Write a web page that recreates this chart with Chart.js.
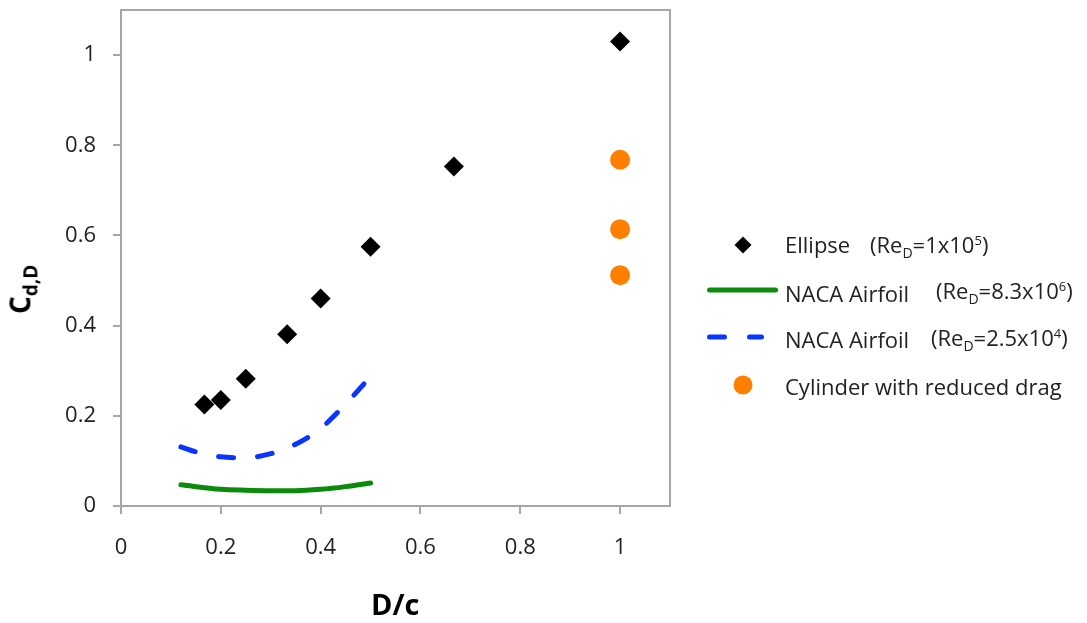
<html>
<head>
  <title>Drag coefficient vs D/c</title>
  <script src="https://cdn.jsdelivr.net/npm/chart.js"></script>
  <style>
    body { margin: 0; background: #fff; }
    #wrap { position: relative; width: 1087px; height: 623px; font-family: "Open Sans", sans-serif; color: #222; }
    #myChart { position: absolute; left: 0; top: 0; }
    .lbl { position: absolute; white-space: nowrap; font-size: 22px; line-height: 1; }
    .lbl sub { font-size: 14px; line-height: 0; }
    .lbl sup { font-size: 13px; line-height: 0; }
    .ttl { position: absolute; font-weight: bold; white-space: nowrap; color: #000; line-height: 1; }
  </style>
</head>
<body>
  <div id="wrap">
    <canvas id="myChart" width="1087" height="623"></canvas>

    <!-- axis titles -->
    <div class="ttl" style="left:371px; top:589px; font-size:29px;">D/c</div>
    <div id="ytitle" class="ttl" style="font-size:28px;">C<sub style="font-size:19px;">d,D</sub></div>

    <!-- legend -->
    <canvas id="legendMarks" width="90" height="180" style="position:absolute; left:700px; top:225px;"></canvas>
    <div class="lbl" style="left:785px; top:233px;">Ellipse</div>
    <div class="lbl" style="left:870px; top:233px;">(Re<sub>D</sub>=1x10<sup>5</sup>)</div>
    <div class="lbl" style="left:785px; top:282px;">NACA Airfoil</div>
    <div class="lbl" style="left:936px; top:279px;">(Re<sub>D</sub>=8.3x10<sup>6</sup>)</div>
    <div class="lbl" style="left:785px; top:328px;">NACA Airfoil</div>
    <div class="lbl" style="left:931px; top:326px;">(Re<sub>D</sub>=2.5x10<sup>4</sup>)</div>
    <div class="lbl" style="left:785px; top:375px;">Cylinder with reduced drag</div>
  </div>

  <script>
    // Ellipse (Re_D = 1e5)
    var ellipseX = [0.167, 0.2, 0.25, 0.333, 0.4, 0.5, 0.667, 1.0];
    var ellipseY = [0.225, 0.235, 0.282, 0.381, 0.46, 0.575, 0.753, 1.03];

    // NACA airfoil, Re_D = 8.3e6 (solid green)
    var nacaHighX = [0.12, 0.2, 0.25, 0.3, 0.35, 0.4, 0.45, 0.5];
    var nacaHighY = [0.047, 0.037, 0.035, 0.034, 0.034, 0.037, 0.043, 0.051];

    // NACA airfoil, Re_D = 2.5e4 (dashed blue)
    var nacaLowX = [0.12, 0.15, 0.2, 0.25, 0.3, 0.35, 0.4, 0.45, 0.5];
    var nacaLowY = [0.131, 0.12, 0.109, 0.107, 0.116, 0.137, 0.172, 0.226, 0.287];

    // Cylinder with reduced drag
    var cylX = [1.0, 1.0, 1.0];
    var cylY = [0.768, 0.614, 0.512];

    var xTicks = [0, 0.2, 0.4, 0.6, 0.8, 1];
    var yTicks = [0, 0.2, 0.4, 0.6, 0.8, 1];

    var GREEN = "#0b8a0b";
    var BLUE = "#0a35ff";
    var ORANGE = "#ff7f00";
    var AXIS = "#a6a6a6";

    function toPoints(xs, ys) {
      return xs.map(function (x, i) { return { x: x, y: ys[i] }; });
    }

    // draws the top and right edges of the plot box
    var boxPlugin = {
      id: "box",
      afterDraw: function (chart) {
        var a = chart.chartArea, ctx = chart.ctx;
        ctx.save();
        ctx.strokeStyle = AXIS;
        ctx.lineWidth = 2;
        ctx.beginPath();
        ctx.moveTo(a.left, a.top);
        ctx.lineTo(a.right, a.top);
        ctx.lineTo(a.right, a.bottom);
        ctx.stroke();
        ctx.restore();
      }
    };

    var ctx = document.getElementById("myChart").getContext("2d");
    var chart = new Chart(ctx, {
      type: "scatter",
      data: {
        datasets: [
          {
            label: "NACA Airfoil (ReD=8.3x10^6)",
            data: toPoints(nacaHighX, nacaHighY),
            showLine: true,
            borderColor: GREEN,
            borderWidth: 5,
            borderCapStyle: "round",
            pointRadius: 0,
            cubicInterpolationMode: "monotone"
          },
          {
            label: "NACA Airfoil (ReD=2.5x10^4)",
            data: toPoints(nacaLowX, nacaLowY),
            showLine: true,
            borderColor: BLUE,
            borderWidth: 5,
            borderDash: [15, 24],
            borderCapStyle: "round",
            pointRadius: 0,
            cubicInterpolationMode: "monotone"
          },
          {
            label: "Ellipse (ReD=1x10^5)",
            data: toPoints(ellipseX, ellipseY),
            pointStyle: "rectRot",
            pointRadius: 10,
            backgroundColor: "#000",
            borderColor: "#000",
            borderWidth: 0
          },
          {
            label: "Cylinder with reduced drag",
            data: toPoints(cylX, cylY),
            pointStyle: "circle",
            pointRadius: 10,
            backgroundColor: ORANGE,
            borderColor: ORANGE,
            borderWidth: 0
          }
        ]
      },
      options: {
        responsive: false,
        animation: false,
        layout: { padding: { top: 10, right: 417, left: 0, bottom: 0 } },
        plugins: {
          legend: { display: false },
          tooltip: { enabled: false }
        },
        scales: {
          x: {
            type: "linear",
            min: 0,
            max: 1.1,
            afterBuildTicks: function (scale) {
              scale.ticks = xTicks.map(function (v) { return { value: v }; });
            },
            afterFit: function (scale) {
              scale.height = 117;
              scale.paddingLeft = 0;
              scale.paddingRight = 0;
            },
            grid: { drawOnChartArea: false, color: AXIS, tickLength: 8, lineWidth: 2 },
            border: { color: AXIS, width: 2 },
            ticks: {
              color: "#222",
              font: { family: "Open Sans", size: 22 },
              padding: 21,
              maxRotation: 0,
              callback: function (v) { return String(Math.round(v * 10) / 10); }
            }
          },
          y: {
            type: "linear",
            min: 0,
            max: 1.1,
            afterBuildTicks: function (scale) {
              scale.ticks = yTicks.map(function (v) { return { value: v }; });
            },
            afterFit: function (scale) {
              scale.width = 121;
              scale.paddingTop = 0;
              scale.paddingBottom = 0;
            },
            grid: { drawOnChartArea: false, color: AXIS, tickLength: 8, lineWidth: 2 },
            border: { color: AXIS, width: 2 },
            ticks: {
              color: "#222",
              font: { family: "Open Sans", size: 22 },
              padding: 17,
              callback: function (v) { return String(Math.round(v * 10) / 10); }
            }
          }
        }
      },
      plugins: [boxPlugin]
    });

    // rotate the y title about its own centre, placed at (22, 289)
    var yt = document.getElementById("ytitle");
    yt.style.left = (22 - yt.offsetWidth / 2) + "px";
    yt.style.top = (289 - yt.offsetHeight / 2) + "px";
    yt.style.transform = "rotate(-90deg)";

    // legend markers
    var lc = document.getElementById("legendMarks").getContext("2d");
    // diamond
    lc.fillStyle = "#000";
    lc.beginPath();
    lc.moveTo(43, 11.5); lc.lineTo(51.5, 20); lc.lineTo(43, 28.5); lc.lineTo(34.5, 20);
    lc.closePath(); lc.fill();
    // green line
    lc.strokeStyle = GREEN; lc.lineWidth = 5; lc.lineCap = "round";
    lc.beginPath(); lc.moveTo(9.5, 65); lc.lineTo(75.5, 65); lc.stroke();
    // blue dashes
    lc.strokeStyle = BLUE;
    lc.beginPath();
    lc.moveTo(9.5, 112); lc.lineTo(24.5, 112);
    lc.moveTo(49.5, 112); lc.lineTo(61.5, 112);
    lc.stroke();
    // orange dot
    lc.fillStyle = ORANGE;
    lc.beginPath(); lc.arc(43, 160, 9.5, 0, Math.PI * 2); lc.fill();
  </script>
</body>
</html>
